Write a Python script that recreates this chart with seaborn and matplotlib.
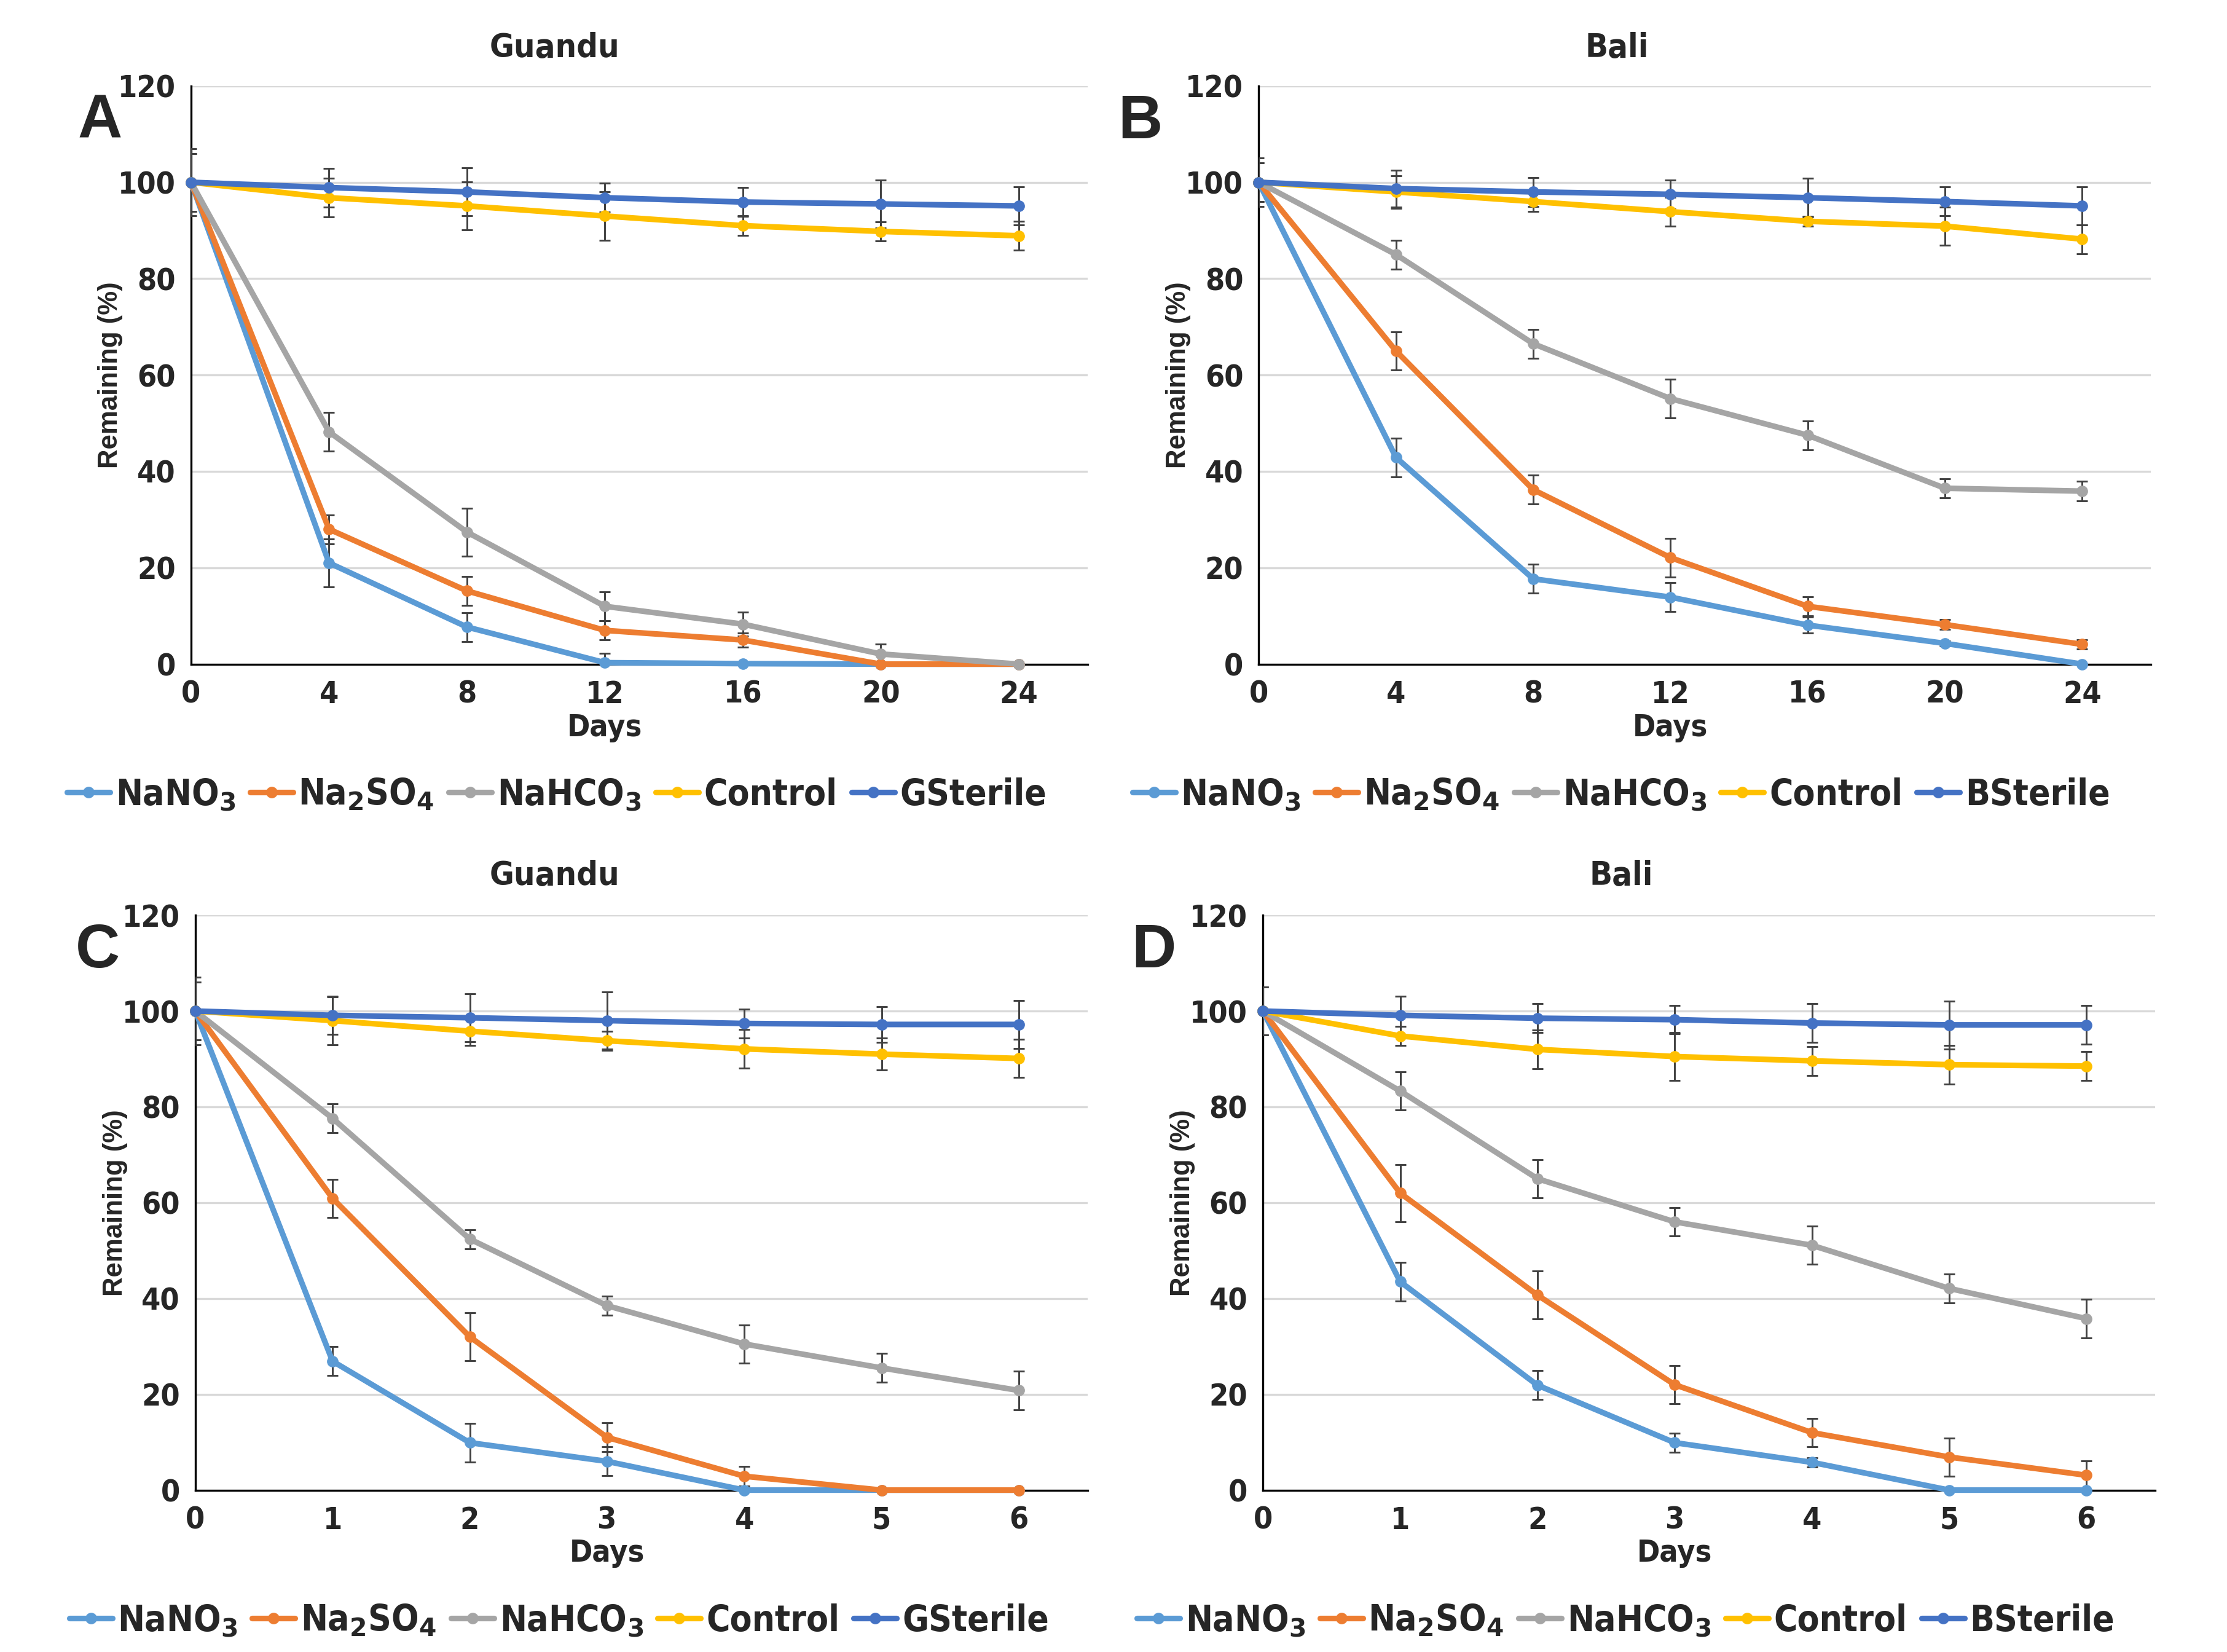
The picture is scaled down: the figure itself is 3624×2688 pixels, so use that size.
import pandas as pd
import matplotlib
matplotlib.use('Agg')
import matplotlib.pyplot as plt
from matplotlib import font_manager
import seaborn as sns

# --- data ---
days_long = [0, 4, 8, 12, 16, 20, 24]
days_short = [0, 1, 2, 3, 4, 5, 6]

# A: Guandu, 24 days
a_nano3 = [100, 21, 7.7, 0.3, 0.1, 0, 0]
a_na2so4 = [100, 28, 15.2, 7, 5, 0, 0]
a_nahco3 = [100, 48.2, 27.4, 12, 8.3, 2.1, 0]
a_control = [100, 96.8, 95.1, 93, 91, 89.8, 88.9]
a_sterile = [100, 98.9, 98, 96.8, 95.9, 95.5, 95.1]
a_nano3_err = [0, 5, 3, 2, 0, 0, 0]
a_na2so4_err = [0, 3, 3, 2, 1.5, 0, 0]
a_nahco3_err = [6, 4, 5, 3, 2.5, 2, 0]
a_control_err = [6, 4, 5, 5, 2, 2, 3]
a_sterile_err = [7, 4, 5, 3, 3, 5, 4]

# B: Bali, 24 days
b_nano3 = [100, 42.9, 17.7, 13.9, 8.1, 4.3, 0]
b_na2so4 = [100, 65, 36.2, 22.1, 12, 8.2, 4.1]
b_nahco3 = [100, 85, 66.5, 55.1, 47.5, 36.5, 35.9]
b_control = [100, 98, 96, 93.9, 91.9, 90.9, 88.2]
b_sterile = [100, 98.7, 98, 97.5, 96.8, 96, 95.1]
b_nano3_err = [0, 4, 3, 3, 1.7, 0.5, 0]
b_na2so4_err = [0, 4, 3, 4, 2, 1, 1]
b_nahco3_err = [4, 3, 3, 4, 3, 2, 2]
b_control_err = [4, 3.4, 2, 3, 1, 4, 3]
b_sterile_err = [5, 3.8, 3, 3, 4, 3, 4]

# C: Guandu, 6 days
c_nano3 = [100, 26.9, 9.9, 6, 0, 0, 0]
c_na2so4 = [100, 60.9, 32, 11, 2.9, 0, 0]
c_nahco3 = [100, 77.6, 52.4, 38.5, 30.5, 25.5, 20.8]
c_control = [100, 98, 95.8, 93.8, 92.1, 91, 90.1]
c_sterile = [100, 99.1, 98.6, 98, 97.4, 97.2, 97.2]
c_nano3_err = [0, 3, 4, 3, 0, 0, 0]
c_na2so4_err = [0, 4, 5, 3, 2, 0, 0]
c_nahco3_err = [6, 3, 2, 2, 4, 3, 4]
c_control_err = [6, 5, 3, 2, 4, 3.3, 4]
c_sterile_err = [7, 4, 5, 6, 3, 3.7, 5]

# D: Bali, 6 days
d_nano3 = [100, 43.5, 21.9, 9.9, 5.8, 0, 0]
d_na2so4 = [100, 62, 40.7, 22, 12, 6.9, 3.1]
d_nahco3 = [100, 83.3, 65, 56, 51.1, 42.1, 35.8]
d_control = [100, 94.8, 92, 90.5, 89.6, 88.8, 88.5]
d_sterile = [100, 99.1, 98.5, 98.2, 97.5, 97.1, 97.1]
d_nano3_err = [0, 4, 3, 2, 1, 0, 0]
d_na2so4_err = [0, 6, 5, 4, 3, 4, 3]
d_nahco3_err = [5, 4, 4, 3, 4, 3, 4]
d_control_err = [5, 2, 4, 5, 3, 4, 3]
d_sterile_err = [5, 4, 3, 3, 4, 5, 4]

colors = ['#5B9BD5', '#ED7D31', '#A5A5A5', '#FFC000', '#4472C4']

panels = [
    ('A', 'Guandu', 'GSterile', days_long,
     [a_nano3, a_na2so4, a_nahco3, a_control, a_sterile],
     [a_nano3_err, a_na2so4_err, a_nahco3_err, a_control_err, a_sterile_err]),
    ('B', 'Bali', 'BSterile', days_long,
     [b_nano3, b_na2so4, b_nahco3, b_control, b_sterile],
     [b_nano3_err, b_na2so4_err, b_nahco3_err, b_control_err, b_sterile_err]),
    ('C', 'Guandu', 'GSterile', days_short,
     [c_nano3, c_na2so4, c_nahco3, c_control, c_sterile],
     [c_nano3_err, c_na2so4_err, c_nahco3_err, c_control_err, c_sterile_err]),
    ('D', 'Bali', 'BSterile', days_short,
     [d_nano3, d_na2so4, d_nahco3, d_control, d_sterile],
     [d_nano3_err, d_na2so4_err, d_nahco3_err, d_control_err, d_sterile_err]),
]

sns.set_style("white")
plt.rcParams['font.family'] = ['Liberation Sans', 'DejaVu Sans']

# narrow bold face for ticks / legend (condensed DejaVu)
narrow = font_manager.FontProperties(family='DejaVu Sans', weight='bold', stretch='condensed')
narrow_file = font_manager.findfont(narrow)


def nfont(size):
    return font_manager.FontProperties(fname=narrow_file, size=size)


plt.rcParams['mathtext.fontset'] = 'custom'
plt.rcParams['mathtext.rm'] = 'DejaVu Sans:bold'
plt.rcParams['mathtext.default'] = 'rm'

fig = plt.figure(figsize=(12.08, 8.96), dpi=300)

# axes boxes (figure fractions)
boxes = [(0.0858, 0.598, 0.4026, 0.350),
         (0.5652, 0.598, 0.4006, 0.350),
         (0.0877, 0.098, 0.4006, 0.348),
         (0.5671, 0.098, 0.4006, 0.348)]
title_pos = [(0.249, 0.971), (0.726, 0.971), (0.249, 0.470), (0.728, 0.470)]
letter_pos = [(0.045, 0.926), (0.512, 0.926), (0.044, 0.424), (0.518, 0.424)]
legend_pos = [(0.250, 0.519), (0.728, 0.519), (0.251, 0.019), (0.730, 0.019)]

for i, (letter, site, sterile_name, days, vals, errs) in enumerate(panels):
    ax = fig.add_axes(boxes[i])
    labels = ['NaNO$_3$', 'Na$_2$SO$_4$', 'NaHCO$_3$', 'Control', sterile_name]
    rows = []
    for lab, v in zip(labels, vals):
        for d, y in zip(days, v):
            rows.append({'day': d, 'value': y, 'series': lab})
    df = pd.DataFrame(rows)

    for lab, v, e in zip(labels, vals, errs):
        ax.errorbar(days, v, yerr=e, fmt='none', ecolor='#404040',
                    elinewidth=0.7, capsize=2.2, capthick=0.7, zorder=3)

    sns.lineplot(data=df, x='day', y='value', hue='series', hue_order=labels,
                 palette=colors, marker='o', markersize=4.5, markeredgewidth=0,
                 linewidth=2.2, ax=ax, zorder=4, clip_on=False)

    step = days[1] - days[0]
    ax.set_xlim(0, days[-1] + step / 2)
    ax.set_ylim(0, 120)
    ax.set_xticks(days)
    ax.set_yticks(range(0, 121, 20))
    ax.yaxis.grid(True, color='#D9D9D9', linewidth=0.8)
    ax.xaxis.grid(False)
    for s in ['top', 'right']:
        ax.spines[s].set_visible(False)
    for s in ['left', 'bottom']:
        ax.spines[s].set_color('black')
        ax.spines[s].set_linewidth(0.8)
    ax.tick_params(length=0, pad=6)
    for t in ax.get_xticklabels() + ax.get_yticklabels():
        t.set_fontproperties(nfont(12))

    # Days label centred under the data range, ylabel at fixed offset
    xlab = ax.set_xlabel('Days', fontproperties=nfont(12))
    xmid = (days[-1] / 2) / (days[-1] + step / 2)
    ax.xaxis.set_label_coords(xmid, -0.11)
    xlab.set_va('center')
    ylab = ax.set_ylabel('Remaining (%)', fontweight='bold', fontsize=10.5)
    ax.yaxis.set_label_coords(-0.09, 0.5)
    ylab.set_va('center')

    fig.text(title_pos[i][0], title_pos[i][1], site, ha='center', va='center',
             fontproperties=nfont(13))
    fig.text(letter_pos[i][0], letter_pos[i][1], letter, ha='center', va='center',
             fontweight='bold', fontsize=24)

    handles, lbls = ax.get_legend_handles_labels()
    ax.legend(handles, lbls, loc='center', bbox_to_anchor=legend_pos[i],
              bbox_transform=fig.transFigure, ncol=5, frameon=False,
              handlelength=1.2, handletextpad=0.15, columnspacing=0.4,
              prop=nfont(14))

fig.savefig('out.png', dpi=300)
